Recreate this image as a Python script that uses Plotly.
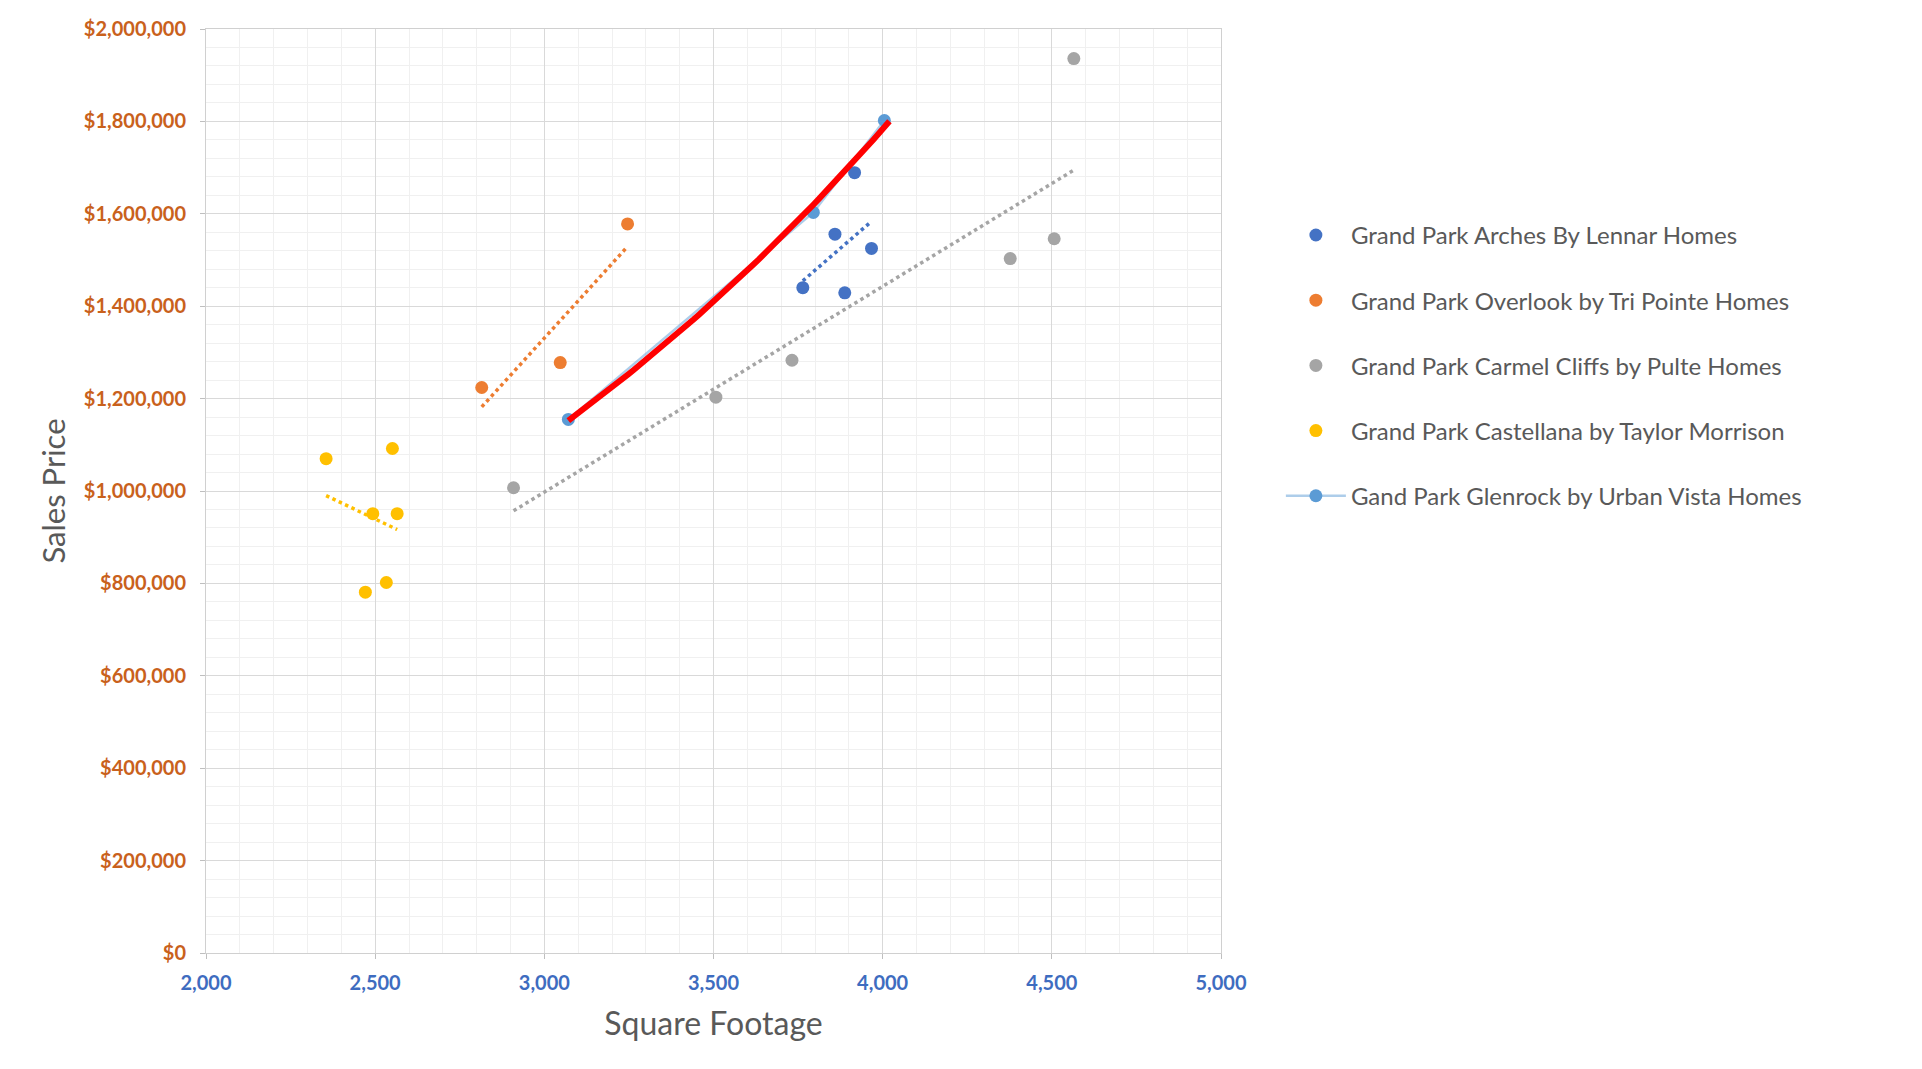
import numpy as np
import plotly.graph_objects as go

# ---------------- data ----------------
arches_sqft = [3764, 3859, 3917, 3888, 3967]
arches_price = [1440000, 1556000, 1689000, 1429000, 1525000]

overlook_sqft = [2815, 3047, 3246]
overlook_price = [1224000, 1278000, 1578000]

carmel_sqft = [2909, 3507, 3732, 4377, 4507, 4565]
carmel_price = [1007000, 1203000, 1283000, 1503000, 1546000, 1936000]

castellana_sqft = [2355, 2551, 2493, 2565, 2533, 2471]
castellana_price = [1070000, 1092000, 951000, 951000, 802000, 781000]

glenrock_sqft = [3071, 3795, 4005]
glenrock_price = [1155000, 1603000, 1802000]

series_names = [
    "Grand Park Arches By Lennar Homes",
    "Grand Park Overlook by Tri Pointe Homes",
    "Grand Park Carmel Cliffs by Pulte Homes",
    "Grand Park Castellana by Taylor Morrison",
    "Gand Park Glenrock by Urban Vista Homes",
]
series_colors = ["#4472C4", "#ED7D31", "#A5A5A5", "#FFC000", "#5B9BD5"]

y_tick_vals = [0, 200000, 400000, 600000, 800000, 1000000, 1200000,
               1400000, 1600000, 1800000, 2000000]
y_tick_text = ["$" + f"{v:,}" for v in y_tick_vals]
x_tick_vals = [2000, 2500, 3000, 3500, 4000, 4500, 5000]
x_tick_text = [f"{v:,}" for v in x_tick_vals]

# ---------------- figure ----------------
fig = go.Figure()

scatter_sets = [
    (arches_sqft, arches_price),
    (overlook_sqft, overlook_price),
    (carmel_sqft, carmel_price),
    (castellana_sqft, castellana_price),
]

for i, (xs, ys) in enumerate(scatter_sets):
    fig.add_trace(go.Scatter(
        x=xs, y=ys, mode="markers", name=series_names[i],
        legendgroup=f"g{i}",
        marker=dict(color=series_colors[i], size=13),
        hoverinfo="x+y",
    ))

# linear trendlines
for i, (xs, ys) in enumerate(scatter_sets):
    xa = np.array(xs, dtype=float)
    ya = np.array(ys, dtype=float)
    m, b = np.polyfit(xa, ya, 1)
    tx = np.array([xa.min(), xa.max()])
    fig.add_trace(go.Scatter(
        x=tx, y=m * tx + b, mode="lines", showlegend=False,
        legendgroup=f"g{i}",
        line=dict(color=series_colors[i], width=3.5, dash="dot"),
        hoverinfo="skip",
    ))

# Glenrock series (line + markers)
fig.add_trace(go.Scatter(
    x=glenrock_sqft, y=glenrock_price, mode="lines+markers",
    name=series_names[4], legendgroup="g4",
    line=dict(color="rgba(91,155,213,0.5)", width=2.5),
    marker=dict(color=series_colors[4], size=13),
))

# exponential trendline for Glenrock (red)
gx = np.array(glenrock_sqft, dtype=float)
gy = np.array(glenrock_price, dtype=float)
k, c = np.polyfit(gx, np.log(gy), 1)
ex = np.linspace(gx.min(), gx.max() + 15, 60)
fig.add_trace(go.Scatter(
    x=ex, y=np.exp(c + k * ex), mode="lines", showlegend=False,
    legendgroup="g4",
    line=dict(color="#FF0000", width=6),
    hoverinfo="skip",
))

FONT = "Lato, 'Open Sans', sans-serif"

# page body has an 8px default margin, so the figure is offset by 8px
fig.update_layout(
    width=1914, height=1061,
    margin=dict(l=198, r=701, t=21, b=116, autoexpand=False),
    paper_bgcolor="white", plot_bgcolor="white",
    font=dict(family=FONT, color="#595959"),
    legend=dict(
        x=1.059, xanchor="left", y=0.801, yanchor="top",
        font=dict(size=24, color="#595959", family=FONT),
        tracegroupgap=31, itemwidth=60,
        bgcolor="rgba(0,0,0,0)",
    ),
    showlegend=True,
)

fig.update_xaxes(
    range=[2000, 5000], tickvals=x_tick_vals, ticktext=x_tick_text,
    showgrid=True, gridcolor="#D9D9D9", gridwidth=1,
    minor=dict(dtick=100, showgrid=True, gridcolor="#F0F0F0", gridwidth=1),
    showline=True, linecolor="#D0D0D0", linewidth=1, mirror=True,
    ticks="outside", ticklen=5, tickcolor="#BFBFBF",
    tickfont=dict(size=20, color="#3E6CC0", family=FONT, weight="bold"),
    ticklabelstandoff=7,
    zeroline=False, automargin=False,
    title=dict(text="Square Footage", font=dict(size=32, color="#595959", family=FONT), standoff=19),
)
fig.update_yaxes(
    range=[0, 2000000], tickvals=y_tick_vals, ticktext=y_tick_text,
    showgrid=True, gridcolor="#D9D9D9", gridwidth=1,
    minor=dict(dtick=40000, showgrid=True, gridcolor="#F0F0F0", gridwidth=1),
    showline=True, linecolor="#D0D0D0", linewidth=1, mirror=True,
    ticks="outside", ticklen=5, tickcolor="#BFBFBF",
    tickfont=dict(size=20, color="#C9611C", family=FONT, weight="bold"),
    ticklabelstandoff=10,
    zeroline=False, automargin=False,
    title=dict(text="Sales Price", font=dict(size=31, color="#595959", family=FONT), standoff=8),
)

fig.write_html("out.html")
